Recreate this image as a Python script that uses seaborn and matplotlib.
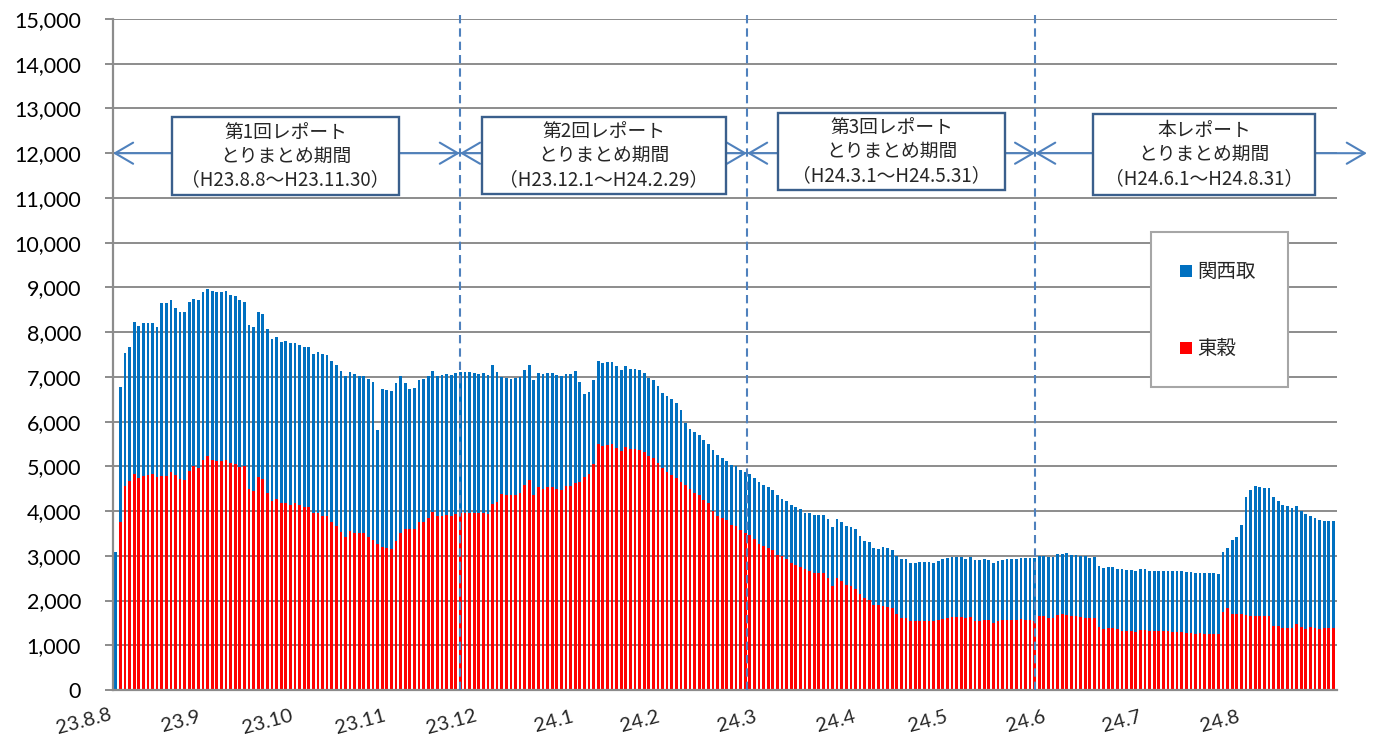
import numpy as np
import pandas as pd
import seaborn as sns
import matplotlib.pyplot as plt
from matplotlib.patches import Rectangle
from matplotlib.ticker import FuncFormatter

# daily volume (one bar per trading day, 23.8.8 - 24.8.31)
tokoku = [
    0, 3750, 4570, 4670, 4830, 4740, 4790, 4810, 4830, 4760,
    4780, 4790, 4870, 4810, 4720, 4700, 4890, 5010, 4970, 5150,
    5230, 5140, 5110, 5130, 5140, 5070, 5060, 4990, 5010, 4490,
    4440, 4770, 4710, 4400, 4220, 4270, 4170, 4170, 4130, 4170,
    4130, 4090, 4080, 3960, 3950, 3890, 3900, 3750, 3660, 3540,
    3430, 3550, 3500, 3500, 3500, 3410, 3360, 3270, 3190, 3180,
    3160, 3340, 3520, 3600, 3600, 3600, 3760, 3760, 3850, 3970,
    3880, 3880, 3910, 3900, 3940, 3960, 3960, 3960, 3960, 3960,
    3960, 3930, 4150, 4200, 4390, 4370, 4350, 4370, 4400, 4580,
    4690, 4370, 4530, 4500, 4540, 4530, 4490, 4460, 4550, 4550,
    4620, 4660, 4770, 4820, 5060, 5500, 5460, 5480, 5500, 5420,
    5340, 5440, 5390, 5390, 5370, 5320, 5220, 5180, 5080, 4960,
    4870, 4810, 4730, 4650, 4580, 4490, 4410, 4350, 4250, 4170,
    4000, 3900, 3850, 3790, 3690, 3660, 3580, 3520, 3470, 3380,
    3270, 3230, 3170, 3120, 3010, 3000, 2920, 2850, 2800, 2740,
    2700, 2660, 2620, 2620, 2610, 2500, 2330, 2500, 2440, 2340,
    2330, 2260, 2150, 2050, 2010, 1890, 1890, 1880, 1860, 1830,
    1690, 1620, 1610, 1540, 1540, 1540, 1540, 1540, 1540, 1560,
    1580, 1620, 1640, 1640, 1630, 1620, 1640, 1540, 1540, 1560,
    1570, 1500, 1540, 1560, 1570, 1570, 1570, 1580, 1570, 1570,
    1540, 1650, 1650, 1610, 1610, 1670, 1700, 1680, 1650, 1650,
    1630, 1620, 1600, 1620, 1400, 1360, 1390, 1380, 1360, 1330,
    1320, 1320, 1300, 1340, 1340, 1320, 1320, 1310, 1310, 1310,
    1300, 1300, 1300, 1270, 1270, 1260, 1270, 1260, 1260, 1260,
    1250, 1740, 1840, 1710, 1710, 1700, 1670, 1650, 1650, 1650,
    1650, 1650, 1440, 1420, 1390, 1390, 1390, 1480, 1410, 1370,
    1400, 1390, 1370, 1390, 1390, 1390,
]

kansai = [
    3090, 3020, 2960, 3000, 3400, 3390, 3410, 3390, 3370, 3360,
    3880, 3870, 3850, 3740, 3730, 3740, 3780, 3740, 3740, 3740,
    3730, 3790, 3790, 3770, 3770, 3760, 3740, 3720, 3670, 3680,
    3680, 3670, 3690, 3670, 3630, 3630, 3620, 3630, 3620, 3590,
    3580, 3580, 3590, 3550, 3600, 3620, 3600, 3610, 3610, 3590,
    3580, 3560, 3560, 3530, 3530, 3540, 3530, 2540, 3530, 3520,
    3520, 3520, 3510, 3260, 3130, 3140, 3170, 3190, 3170, 3170,
    3150, 3160, 3160, 3150, 3140, 3140, 3150, 3150, 3120, 3110,
    3120, 3110, 3120, 2910, 2600, 2610, 2600, 2600, 2600, 2570,
    2580, 2560, 2560, 2560, 2550, 2550, 2560, 2550, 2520, 2510,
    2500, 2230, 1840, 1840, 1860, 1850, 1860, 1860, 1830, 1820,
    1810, 1800, 1790, 1780, 1780, 1760, 1750, 1740, 1720, 1690,
    1700, 1690, 1690, 1600, 1390, 1340, 1350, 1340, 1340, 1330,
    1360, 1350, 1340, 1340, 1340, 1340, 1340, 1350, 1350, 1370,
    1370, 1360, 1370, 1360, 1350, 1280, 1310, 1290, 1300, 1300,
    1260, 1290, 1300, 1290, 1300, 1320, 1310, 1320, 1320, 1320,
    1310, 1330, 1290, 1280, 1290, 1280, 1260, 1310, 1310, 1300,
    1300, 1310, 1320, 1310, 1300, 1320, 1320, 1330, 1310, 1320,
    1350, 1340, 1340, 1340, 1340, 1310, 1330, 1370, 1370, 1370,
    1340, 1350, 1340, 1350, 1350, 1350, 1350, 1360, 1370, 1370,
    1400, 1350, 1350, 1370, 1370, 1370, 1350, 1380, 1370, 1360,
    1370, 1370, 1360, 1360, 1370, 1370, 1370, 1360, 1350, 1370,
    1360, 1360, 1360, 1360, 1360, 1350, 1340, 1350, 1350, 1360,
    1350, 1350, 1350, 1360, 1360, 1360, 1350, 1360, 1350, 1350,
    1350, 1350, 1340, 1640, 1700, 1990, 2640, 2810, 2900, 2880,
    2870, 2870, 2870, 2810, 2750, 2720, 2670, 2630, 2590, 2560,
    2500, 2460, 2430, 2390, 2390, 2380,
]

month_labels = ['23.8.8', '23.9', '23.10', '23.11', '23.12', '24.1', '24.2',
                '24.3', '24.4', '24.5', '24.6', '24.7', '24.8']
period_titles = ['第1回レポート', '第2回レポート', '第3回レポート', '本レポート']
period_ranges = ['（H23.8.8～H23.11.30）', '（H23.12.1～H24.2.29）',
                 '（H24.3.1～H24.5.31）', '（H24.6.1～H24.8.31）']
series_names = ['関西取', '東穀']

# layout (image pixels / bar index units)
W, H = 1375, 745
label_pos = [-7.0, 14.2, 33.1, 53.2, 73.0, 95.4, 114.1, 135.2, 156.8, 176.8, 198.1, 219.0, 240.3]
split_pos = [74.9, 137.4, 200.1]
arrow_ends = [-0.6, 74.9, 137.4, 200.1, 272.3]
box_px = [(172, 117, 399, 195), (482, 117, 726, 194), (778, 113, 1005, 190), (1093, 114, 1315, 195)]

BLUE = '#0070C0'
RED = '#FF0000'
GRID = '#8C8C8C'
LINE = '#4F81BD'
BOXEDGE = '#3A5F8C'

sns.set_theme(style='white')
plt.rcParams['font.family'] = ['Lato', 'Noto Sans CJK JP', 'DejaVu Sans']
JP = ['Noto Sans CJK JP', 'DejaVu Sans']

fig = plt.figure(figsize=(W / 100, H / 100), dpi=100)
ax = fig.add_axes([113 / W, 1 - 690 / H, (1337 - 113) / W, (690 - 19) / H])

df = pd.DataFrame({'day': np.arange(len(tokoku)), '東穀': tokoku, '関西取': kansai})
df['total'] = df['東穀'] + df['関西取']

sns.barplot(data=df, x='day', y='total', color=BLUE, saturation=1, width=0.6,
            linewidth=0, errorbar=None, native_scale=True, ax=ax)
sns.barplot(data=df, x='day', y='東穀', color=RED, saturation=1, width=0.6,
            linewidth=0, errorbar=None, native_scale=True, ax=ax)

ax.set_xlim(-0.6, 265.8)
ax.set_ylim(0, 15000)
ax.set_xlabel('')
ax.set_ylabel('')
ax.set_xticks([])
ax.set_yticks(range(0, 15001, 1000))
ax.yaxis.set_major_formatter(FuncFormatter(lambda v, p: f'{int(v):,}'))
ax.tick_params(axis='y', left=True, length=6, width=1.4, color=GRID, pad=17,
               labelsize=15.5, labelcolor='black')
ax.yaxis.grid(True, color=GRID, lw=1.4)
ax.xaxis.grid(False)
ax.set_axisbelow(True)
for s in ['top', 'right']:
    ax.spines[s].set_visible(False)
for s in ['left', 'bottom']:
    ax.spines[s].set_color(GRID)
    ax.spines[s].set_linewidth(1.6)

xt = ax.get_xaxis_transform()
for pos, lab in zip(label_pos, month_labels):
    ax.text(pos, -0.047, lab, transform=xt, rotation=15, ha='center', va='center',
            fontsize=14.5, clip_on=False)

# period borders
for pos in split_pos:
    ax.plot([pos, pos], [0, 15130], color=LINE, lw=1.5, ls=(0, (4, 2.4)),
            clip_on=False, zorder=4)

# period arrows
for a, b in zip(arrow_ends[:-1], arrow_ends[1:]):
    ax.annotate('', xy=(b, 12000), xytext=(a, 12000), annotation_clip=False,
                arrowprops=dict(arrowstyle='<->,head_length=0.65,head_width=0.38',
                                color=LINE, lw=1.5, shrinkA=0, shrinkB=0,
                                mutation_scale=20), zorder=5)

# period boxes
for (x0, y0, x1, y1), t1, t3 in zip(box_px, period_titles, period_ranges):
    fig.patches.append(Rectangle((x0 / W, 1 - y1 / H), (x1 - x0) / W, (y1 - y0) / H,
                                 transform=fig.transFigure, facecolor='white',
                                 edgecolor=BOXEDGE, lw=1.7, zorder=6))
    cx = (x0 + x1) / 2 / W
    cy = (y0 + y1) / 2
    for dy, txt in zip([-24, 0, 24], [t1, 'とりまとめ期間', t3]):
        fig.text(cx, 1 - (cy + dy) / H, txt, ha='center', va='center',
                 fontsize=13.5, family=JP, zorder=7)

# legend
fig.patches.append(Rectangle((1151 / W, 1 - 387 / H), 137 / W, 155 / H,
                             transform=fig.transFigure, facecolor='white',
                             edgecolor='#A6A6A6', lw=1.5, zorder=6))
for name, col, yc in zip(series_names, [BLUE, RED], [271, 348]):
    fig.patches.append(Rectangle((1180 / W, 1 - (yc + 6) / H), 12 / W, 12 / H,
                                 transform=fig.transFigure, facecolor=col,
                                 edgecolor='none', zorder=7))
    fig.text(1197 / W, 1 - yc / H, name, ha='left', va='center', fontsize=14,
             family=JP, zorder=7)

fig.savefig('out.png', dpi=100)
